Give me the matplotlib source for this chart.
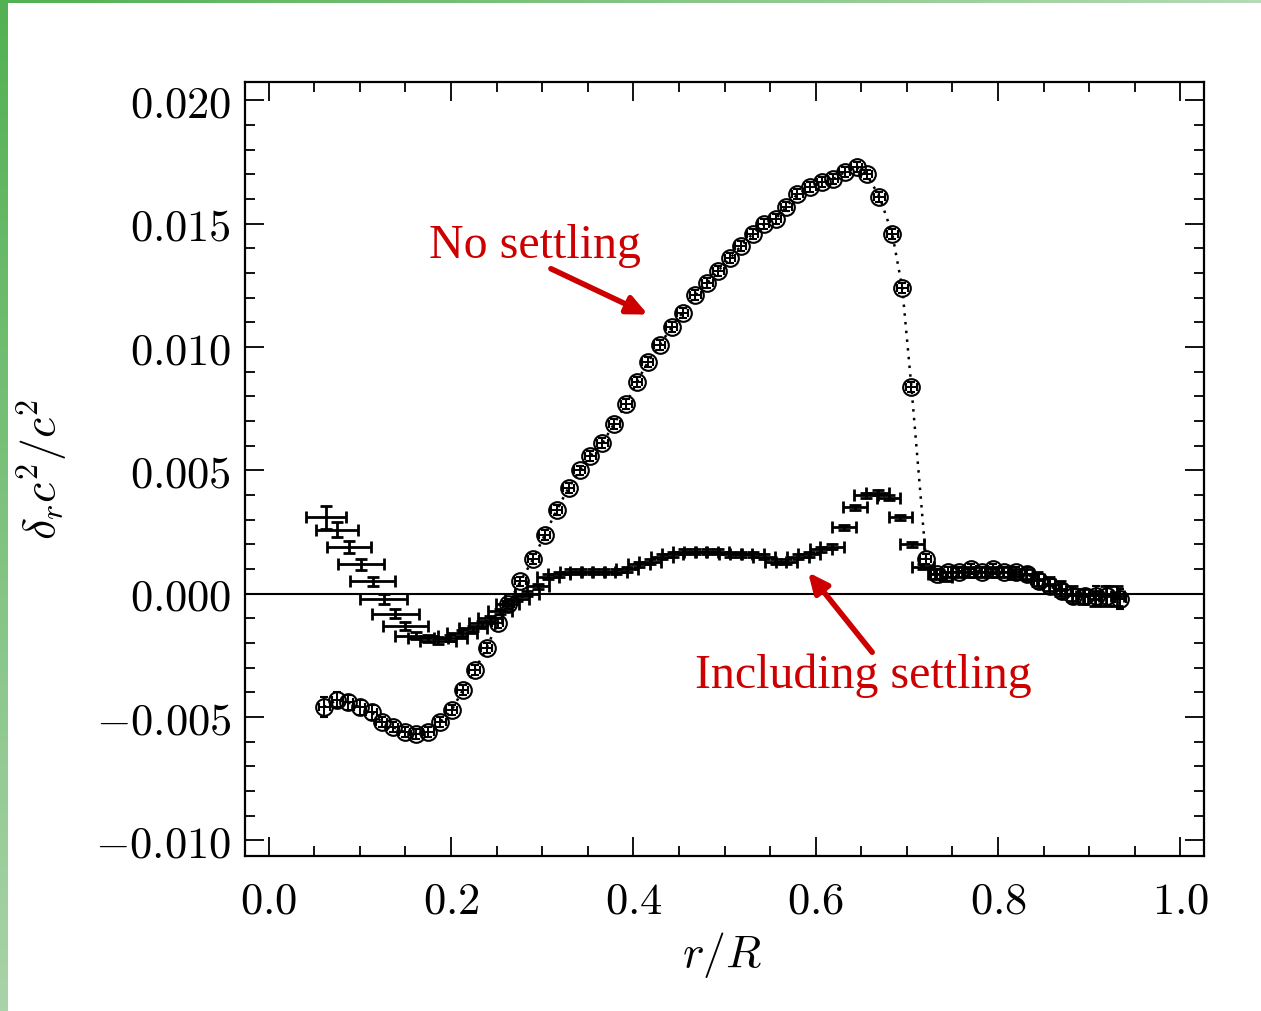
import numpy as np
import matplotlib
matplotlib.use("Agg")
import matplotlib.pyplot as plt
from matplotlib.ticker import MultipleLocator, FuncFormatter
from matplotlib.colors import LinearSegmentedColormap

plt.rcParams["mathtext.fontset"] = "cm"

# relative sound-speed difference, model without settling
r_nos = [0.061, 0.075, 0.087, 0.100, 0.113, 0.124, 0.136, 0.149, 0.162, 0.175,
         0.188, 0.201, 0.213, 0.226, 0.239, 0.251, 0.263, 0.276, 0.290, 0.303,
         0.316, 0.329, 0.341, 0.353, 0.366, 0.379, 0.392, 0.404, 0.416, 0.429,
         0.442, 0.454, 0.468, 0.481, 0.493, 0.506, 0.518, 0.531, 0.543, 0.556,
         0.568, 0.580, 0.594, 0.607, 0.619, 0.632, 0.645, 0.656, 0.670, 0.684,
         0.695, 0.705, 0.721, 0.733, 0.745, 0.757, 0.770, 0.782, 0.795, 0.807,
         0.820, 0.832, 0.845, 0.857, 0.870, 0.882, 0.895, 0.907, 0.920, 0.934]
dc_nos = [-0.0046, -0.0043, -0.0044, -0.0046, -0.0048, -0.0052, -0.0054, -0.0056, -0.0057, -0.0056,
          -0.0052, -0.0047, -0.0039, -0.0031, -0.0022, -0.0012, -0.0004, 0.0005, 0.0014, 0.0024,
          0.0034, 0.0043, 0.0050, 0.0056, 0.0061, 0.0069, 0.0077, 0.0086, 0.0094, 0.0101,
          0.0108, 0.0114, 0.0121, 0.0126, 0.0131, 0.0136, 0.0141, 0.0146, 0.0150, 0.0152,
          0.0157, 0.0162, 0.0165, 0.0167, 0.0168, 0.0171, 0.0173, 0.0170, 0.0161, 0.0146,
          0.0124, 0.0084, 0.0014, 0.0008, 0.0009, 0.0009, 0.0010, 0.0009, 0.0010, 0.0009,
          0.0009, 0.0008, 0.0005, 0.0003, 0.0001, -0.0001, -0.0001, -0.0001, -0.0001, -0.0002]
err_nos = [0.0004, 0.0003, 0.0003, 0.0003, 0.0003, 0.0002, 0.0002, 0.0002, 0.0002, 0.0002,
           0.0002, 0.0002, 0.0002, 0.0002, 0.0002, 0.0002, 0.0002, 0.0002, 0.0002, 0.0002,
           0.0002, 0.0002, 0.0002, 0.0002, 0.0002, 0.0002, 0.0002, 0.0002, 0.0002, 0.0002,
           0.0002, 0.0002, 0.0002, 0.0002, 0.0002, 0.0002, 0.0002, 0.0002, 0.0002, 0.0002,
           0.0002, 0.0002, 0.0002, 0.0002, 0.0002, 0.0002, 0.0002, 0.0002, 0.0002, 0.0002,
           0.0002, 0.0002, 0.0002, 0.0002, 0.0002, 0.0002, 0.0002, 0.0002, 0.0002, 0.0002,
           0.0002, 0.0003, 0.0003, 0.0003, 0.0003, 0.0003, 0.0003, 0.0004, 0.0004, 0.0004]

# model including helium and heavy-element settling
r_set = [0.063, 0.075, 0.088, 0.101, 0.114, 0.126, 0.139, 0.150, 0.162, 0.175,
         0.186, 0.199, 0.212, 0.224, 0.234, 0.243, 0.254, 0.262, 0.272, 0.283,
         0.295, 0.306, 0.318, 0.331, 0.343, 0.356, 0.368, 0.381, 0.393, 0.406,
         0.418, 0.431, 0.443, 0.456, 0.468, 0.481, 0.493, 0.506, 0.518, 0.531,
         0.543, 0.556, 0.568, 0.581, 0.593, 0.606, 0.618, 0.631, 0.643, 0.655,
         0.668, 0.680, 0.693, 0.706, 0.718, 0.731, 0.743, 0.756, 0.768, 0.781,
         0.793, 0.806, 0.818, 0.831, 0.843, 0.856, 0.868, 0.881, 0.893, 0.906,
         0.918, 0.931]
dc_set = [0.0031, 0.0026, 0.0019, 0.0012, 0.0005, -0.0002, -0.0008, -0.0013, -0.0017, -0.0018,
          -0.0019, -0.0018, -0.0016, -0.0014, -0.0012, -0.0010, -0.0007, -0.0004, -0.0002, 0.0000,
          0.0003, 0.0007, 0.0008, 0.0009, 0.0009, 0.0009, 0.0009, 0.0009, 0.0010, 0.0012,
          0.0013, 0.0015, 0.0016, 0.0017, 0.0017, 0.0017, 0.0017, 0.0016, 0.0016, 0.0016,
          0.0015, 0.0013, 0.0013, 0.0015, 0.0016, 0.0018, 0.0019, 0.0027, 0.0035, 0.0040,
          0.0041, 0.0039, 0.0031, 0.0020, 0.0011, 0.0008, 0.0007, 0.0009, 0.0009, 0.0009,
          0.0009, 0.0009, 0.0008, 0.0008, 0.0006, 0.0004, 0.0002, 0.0000, -0.0001, -0.0002,
          -0.0001, -0.0001]
dr_set = [0.022, 0.023, 0.024, 0.025, 0.025, 0.026, 0.026, 0.025, 0.024, 0.022,
          0.020, 0.018, 0.016, 0.015, 0.014, 0.013, 0.013, 0.013, 0.013, 0.013,
          0.012, 0.012, 0.012, 0.012, 0.012, 0.012, 0.012, 0.012, 0.012, 0.012,
          0.012, 0.012, 0.012, 0.012, 0.012, 0.012, 0.012, 0.012, 0.012, 0.012,
          0.012, 0.012, 0.012, 0.012, 0.012, 0.012, 0.013, 0.013, 0.013, 0.013,
          0.013, 0.013, 0.013, 0.013, 0.012, 0.008, 0.007, 0.007, 0.007, 0.007,
          0.007, 0.007, 0.007, 0.007, 0.007, 0.007, 0.007, 0.007, 0.007, 0.007,
          0.007, 0.007]
err_set = [0.00047, 0.0003, 0.00025, 0.00022, 0.0002, 0.0002, 0.00018, 0.00016, 0.00015, 0.00014,
           0.00013, 0.00012, 0.00012, 0.00011, 0.0001, 0.0001, 0.0001, 0.0001, 0.0001, 0.0001,
           0.0001, 0.0001, 0.0001, 0.0001, 0.0001, 0.0001, 0.0001, 0.0001, 0.0001, 0.0001,
           0.0001, 0.0001, 0.0001, 0.0001, 0.0001, 0.0001, 0.0001, 0.0001, 0.0001, 0.0001,
           0.0001, 0.0001, 0.0001, 0.0001, 0.0001, 0.0001, 0.0001, 0.0001, 0.0001, 0.0001,
           0.0001, 0.0001, 0.0001, 0.0001, 0.0001, 0.0002, 0.0002, 0.0002, 0.0002, 0.0002,
           0.0002, 0.0002, 0.0002, 0.0002, 0.0003, 0.0003, 0.0003, 0.0003, 0.0003, 0.0003,
           0.0004, 0.0004]

red = "#cc0000"

fig = plt.figure(figsize=(12.61, 10.11), dpi=100)

# green slide border on the left and top edges
bg = fig.add_axes([0, 0, 1, 1], zorder=-5)
bg.set_xlim(0, 1261)
bg.set_ylim(1011, 0)
bg.axis("off")
vgrad = np.linspace(0, 1, 256).reshape(-1, 1)
hgrad = np.linspace(0, 1, 256).reshape(1, -1)
bg.imshow(vgrad, cmap=LinearSegmentedColormap.from_list("v", ["#52b152", "#a9d3a9"]),
          extent=(0, 8, 1011, 0), aspect="auto")
bg.imshow(hgrad, cmap=LinearSegmentedColormap.from_list("h", ["#52b152", "#b5dab5"]),
          extent=(0, 1261, 3, 0), aspect="auto")

ax = fig.add_axes([245 / 1261, 1 - 856 / 1011, 959 / 1261, 774 / 1011])
ax.set_xlim(-0.026, 1.026)
ax.set_ylim(-0.01063, 0.02075)

ax.axhline(0, color="k", lw=1.5, zorder=1)

# model curve and measurements, no settling
ax.plot(r_nos, dc_nos, ls=(0, (1, 2.5)), color="k", lw=1.8, zorder=2)
ax.errorbar(r_nos, dc_nos, xerr=0.006, yerr=err_nos, fmt="o", ms=12,
            mfc="none", mec="k", mew=1.5, ecolor="k", elinewidth=1.4,
            capsize=3, capthick=1.4, zorder=3)

# including settling
ax.errorbar(r_set, dc_set, xerr=dr_set, yerr=err_set, fmt="none",
            ecolor="k", elinewidth=2.0, capsize=4, capthick=2.0, zorder=4)

ax.xaxis.set_major_locator(MultipleLocator(0.2))
ax.xaxis.set_minor_locator(MultipleLocator(0.05))
ax.yaxis.set_major_locator(MultipleLocator(0.005))
ax.yaxis.set_minor_locator(MultipleLocator(0.001))


def fmt(nd):
    def f(v, pos):
        if abs(v) < 1e-12:
            v = 0.0
        return f"${v:.{nd}f}$"
    return FuncFormatter(f)


ax.xaxis.set_major_formatter(fmt(1))
ax.yaxis.set_major_formatter(fmt(3))
ax.tick_params(which="both", direction="in", top=True, right=True, width=1.3)
ax.tick_params(which="major", length=14)
ax.tick_params(which="minor", length=7)
ax.tick_params(axis="x", which="major", labelsize=32, pad=17)
ax.tick_params(axis="y", which="major", labelsize=32, pad=10)
for s in ax.spines.values():
    s.set_linewidth(1.6)

ax.set_xlabel(r"$r/R$", fontsize=33)
ax.set_ylabel(r"$\delta_r c^2/c^2$", fontsize=33)
ax.xaxis.label.set_va("center")
ax.yaxis.label.set_va("center")
ax.xaxis.set_label_coords(0.497, -0.128)
ax.yaxis.set_label_coords(-0.212, 0.5)

ax.text(0.292, 0.01411, "No settling", color=red, fontsize=34.5,
        family="Liberation Serif", ha="center", va="center")
ax.annotate("", xy=(0.416, 0.01132), xytext=(0.3096, 0.01318),
            arrowprops=dict(arrowstyle="-|>,head_length=1.2,head_width=0.55",
                            color=red, lw=4, shrinkA=0, shrinkB=0))
ax.text(0.652, -0.00334, "Including settling", color=red, fontsize=34.5,
        family="Liberation Serif", ha="center", va="center")
ax.annotate("", xy=(0.5917, 0.00087), xytext=(0.662, -0.00237),
            arrowprops=dict(arrowstyle="-|>,head_length=1.2,head_width=0.55",
                            color=red, lw=4, shrinkA=0, shrinkB=0))

fig.savefig("out.png", dpi=100)
